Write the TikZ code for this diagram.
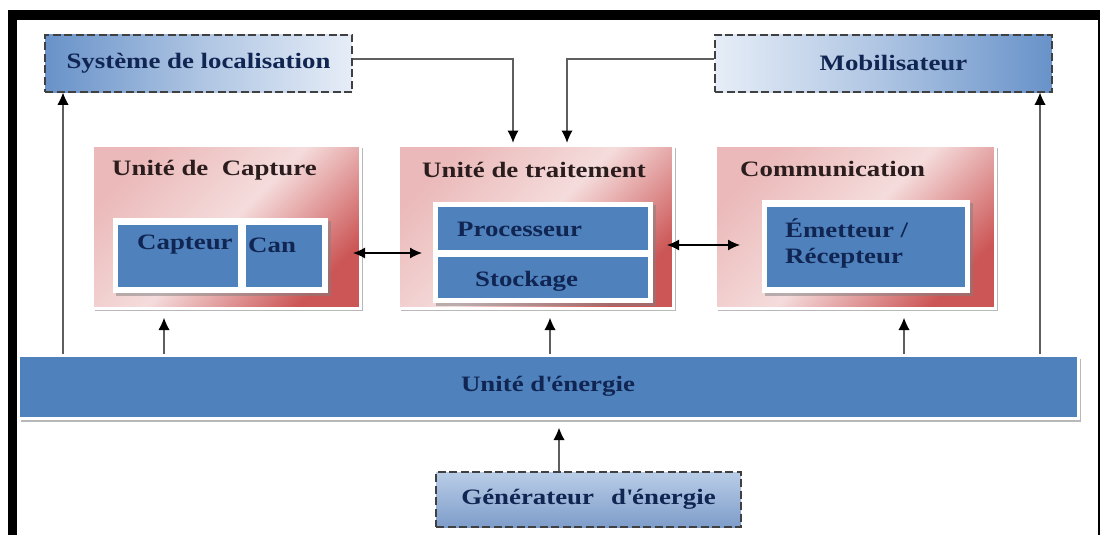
\documentclass[tikz,border=0pt]{standalone}
\usepackage{fontspec}
\setmainfont{Liberation Serif}[FakeStretch=1.22]
\usetikzlibrary{arrows.meta,shadows,calc}

\definecolor{boxblue}{HTML}{4F81BD}
\definecolor{pinkA}{HTML}{EBB9B9}
\definecolor{pinkB}{HTML}{F5DCDC}
\definecolor{pinkC}{HTML}{CC5555}
\definecolor{skyA}{HTML}{6892C9}
\definecolor{skyB}{HTML}{E6EDF7}
\definecolor{genA}{HTML}{B9CDE7}
\definecolor{genB}{HTML}{7E9DCA}
\definecolor{titleink}{HTML}{2B1D1D}
\definecolor{navyink}{HTML}{102552}
\definecolor{wire}{HTML}{5E5E5E}

\tikzset{
  txt/.style={font=\fontsize{22}{27}\selectfont\bfseries, inner sep=0pt},
  title/.style={txt, text=titleink, anchor=west},
  bluetxt/.style={txt, text=navyink, anchor=west},
  unitbox/.style={rectangle, inner sep=0pt, draw=white, line width=3pt,
    top color=pinkA, bottom color=pinkC, middle color=pinkB, shading angle=45,
    drop shadow={shadow xshift=3pt, shadow yshift=-3pt, fill=black!55}},
  whiteframe/.style={rectangle, inner sep=0pt, fill=white,
    drop shadow={shadow xshift=2.5pt, shadow yshift=-2.5pt, fill=black!50}},
  bluebox/.style={rectangle, inner sep=0pt, fill=boxblue},
  energybar/.style={rectangle, inner sep=0pt, fill=boxblue, draw=white, line width=3pt,
    drop shadow={shadow xshift=3pt, shadow yshift=-3.5pt, fill=black!55}},
  dashbox/.style={rectangle, inner sep=0pt, draw=black!75, line width=1.6pt,
    dash pattern=on 8pt off 3.5pt, txt, text=navyink},
  arr/.style={draw=wire, line width=1.4pt,
    -{Latex[length=12pt,width=11pt,fill=black,line width=0pt]}},
  darr/.style={draw=black, line width=1.3pt,
    {Latex[length=12pt,width=11pt]}-{Latex[length=12pt,width=11pt]}},
}

\begin{document}
\begin{tikzpicture}[x=1pt, y=-1pt]
  % canvas and outer frame
  \fill[white] (0,0) rectangle (1102,535);
  \useasboundingbox (0,0) rectangle (1102,535);
  \fill[black] (8,10) rectangle (1100,20);
  \fill[black] (8,10) rectangle (17,535);
  \draw[black, line width=1.5pt] (1099,10) -- (1099,535);

  % external blocks (dashed)
  \node[dashbox, left color=skyA, right color=skyB, middle color=skyA!45!skyB,
        minimum width=307pt, minimum height=57pt] (loc) at (198.5,63.5)
        {Système de localisation};
  \node[dashbox, left color=skyB, right color=skyA, middle color=skyA!45!skyB,
        minimum width=337pt, minimum height=57pt] (mob) at (883.5,63.5)
        {\hspace*{20pt}Mobilisateur};
  \node[dashbox, top color=genA, bottom color=genB,
        minimum width=305pt, minimum height=55pt] (gen) at (588.5,499.5)
        {Générateur~\,~d\textquotesingle énergie};

  % main units
  \node[unitbox, minimum width=268pt, minimum height=163pt] (cap) at (226,226.5) {};
  \node[unitbox, minimum width=275pt, minimum height=163pt] (trt) at (535.5,226.5) {};
  \node[unitbox, minimum width=280pt, minimum height=163pt] (com) at (855,226.5) {};

  \node[title] (capT) at (112,170) {Unité de~ Capture};
  \node[title] (trtT) at (422,170) {Unité de traitement};
  \node[title] (comT) at (740,169) {Communication};

  % capture unit contents
  \node[whiteframe, minimum width=215pt, minimum height=75pt] (capF) at (220.5,255.5) {};
  \node[bluebox, minimum width=120pt, minimum height=62pt] (capteur) at (178,256) {};
  \node[bluebox, minimum width=76pt, minimum height=62pt] (can) at (284,256) {};
  \node[bluetxt] (capteurT) at (137,245) {Capteur};
  \node[bluetxt] (canT) at (248,245) {Can};

  % processing unit contents
  \node[whiteframe, minimum width=220pt, minimum height=101pt] (trtF) at (543,252.5) {};
  \node[bluebox, minimum width=210pt, minimum height=43pt] (proc) at (543,228.5) {};
  \node[bluebox, minimum width=210pt, minimum height=41pt] (stock) at (543,277.5) {};
  \node[bluetxt] (procT) at (457,229) {Processeur};
  \node[bluetxt] (stockT) at (475,281) {Stockage};

  % communication unit contents
  \node[whiteframe, minimum width=208pt, minimum height=93pt] (comF) at (866,246.5) {};
  \node[bluebox, minimum width=198pt, minimum height=80pt] (radio) at (866,247) {};
  \node[bluetxt, align=left, font=\fontsize{22}{26}\selectfont\bfseries] (radioT)
        at (785,243) {Émetteur /\\Récepteur};

  % energy unit
  \node[energybar, minimum width=1060pt, minimum height=63pt, txt, text=navyink] (nrg)
        at (548,386.5) {\raisebox{5pt}{Unité d\textquotesingle énergie}};

  % vertical positions of the supply lines
  \coordinate (xa) at (63,0);
  \coordinate (xb) at (164,0);
  \coordinate (xc) at (550,0);
  \coordinate (xd) at (904,0);
  \coordinate (xe) at (1040,0);
  \coordinate (xg) at (559,0);
  \coordinate (ya) at (0,253);
  \coordinate (yb) at (0,245);

  % control inputs into the processing unit
  \draw[arr] ($(loc.east)+(0,-4.5)$) -| ($(trt.north)+(-22.5,-1)$);
  \draw[arr] ($(mob.west)+(0,-4.5)$) -| ($(trt.north)+(31.5,-1)$);

  % data exchanges
  \draw[darr] ($(cap.east |- ya)+(-8.5,0)$) -- ($(trt.west |- ya)+(25.5,0)$);
  \draw[darr] ($(trt.east |- yb)+(-7.5,0)$) -- ($(com.west |- yb)+(26.5,0)$);

  % power supply
  \draw[arr] (nrg.north -| xa) -- (loc.south -| xa);
  \draw[arr] (nrg.north -| xb) -- ($(cap.south -| xb)+(0,8.5)$);
  \draw[arr] (nrg.north -| xc) -- ($(trt.south -| xc)+(0,8.5)$);
  \draw[arr] (nrg.north -| xd) -- ($(com.south -| xd)+(0,8.5)$);
  \draw[arr] (nrg.north -| xe) -- (mob.south -| xe);
  \draw[arr] (gen.north -| xg) -- ($(nrg.south -| xg)+(0,8.5)$);
\end{tikzpicture}
\end{document}
